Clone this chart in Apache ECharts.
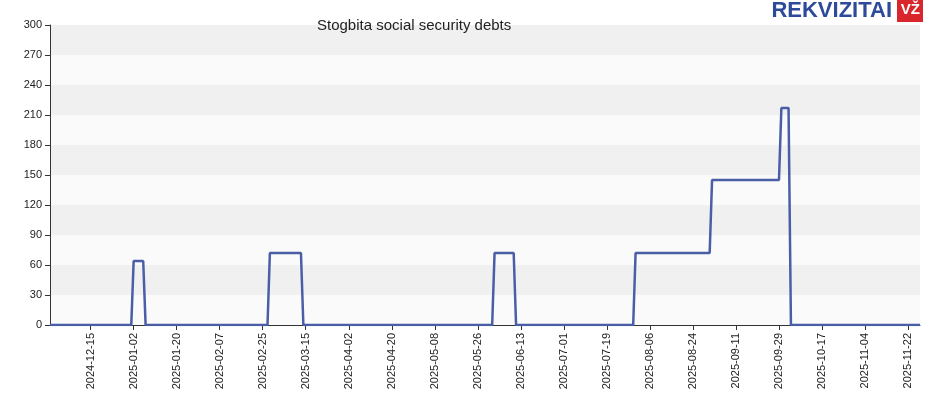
<!DOCTYPE html>
<html><head><meta charset="utf-8">
<script src="https://cdn.jsdelivr.net/npm/echarts@6/dist/echarts.min.js"></script>
<style>body{margin:0}#c{width:930px;height:400px}</style></head>
<body><div id="c"></div>
<script>
var startDate = '2024-11-28';
var endDate = '2025-11-27';
// change points: [date from which value applies, value]
var stepDates = ['2024-11-28', '2025-01-02', '2025-01-07', '2025-02-28', '2025-03-14', '2025-06-02', '2025-06-11', '2025-07-31', '2025-09-01', '2025-09-30', '2025-10-04'];
var stepValues = [0, 64, 0, 72, 0, 72, 0, 72, 145, 217, 0];
var yTicks = [0, 30, 60, 90, 120, 150, 180, 210, 240, 270, 300];

function fmt(d) { return d.toISOString().slice(0, 10); }
var dates = [], values = [];
var d = new Date(startDate + 'T00:00:00Z'), end = new Date(endDate + 'T00:00:00Z');
var k = 0;
while (d <= end) {
  var s = fmt(d);
  while (k + 1 < stepDates.length && stepDates[k + 1] <= s) k++;
  dates.push(s);
  values.push(stepValues[k]);
  d.setUTCDate(d.getUTCDate() + 1);
}

var chart = echarts.init(document.getElementById('c'));
chart.setOption({
  animation: false,
  title: {
    text: 'Stogbita social security debts', left: 312, top: 13,
    textStyle: { fontFamily: 'Arial, Liberation Sans', fontSize: 15, fontWeight: 'normal', color: '#222' }
  },
  graphic: [
    { type: 'text', right: 38, top: 0, style: { text: 'REKVIZITAI', font: 'bold 22px "Liberation Sans Narrow", "Liberation Sans"', fill: '#2e4b9b' } },
    { type: 'rect', right: 7, top: 0, shape: { width: 26, height: 22 }, style: { fill: '#d9262c' } },
    { type: 'text', right: 10, top: 2, style: { text: 'VŽ', font: 'bold 15px "Liberation Sans"', fill: '#fff' } }
  ],
  grid: { left: 50, right: 10, top: 25, bottom: 75 },
  xAxis: {
    type: 'category', data: dates, boundaryGap: false,
    axisLine: { lineStyle: { color: '#333' } },
    axisTick: { interval: function (i) { return i % 18 === 17; }, lineStyle: { color: '#333' } },
    axisLabel: {
      interval: function (i) { return i % 18 === 17; }, rotate: 90,
      fontSize: 11, color: '#222', fontFamily: 'Arial, Liberation Sans'
    },
    splitLine: { show: false }
  },
  yAxis: {
    type: 'value', min: yTicks[0], max: yTicks[yTicks.length - 1], interval: 30,
    axisLine: { show: true, lineStyle: { color: '#333' } },
    axisTick: { show: true },
    axisLabel: { fontSize: 11, color: '#222', fontFamily: 'Arial, Liberation Sans' },
    splitLine: { show: false },
    splitArea: { show: true, areaStyle: { color: ['#fafafa', '#f0f0f0'] } }
  },
  series: [{
    type: 'line', data: values, symbol: 'none',
    lineStyle: { color: '#4a5ea8', width: 2.5 }
  }]
});
</script></body></html>
